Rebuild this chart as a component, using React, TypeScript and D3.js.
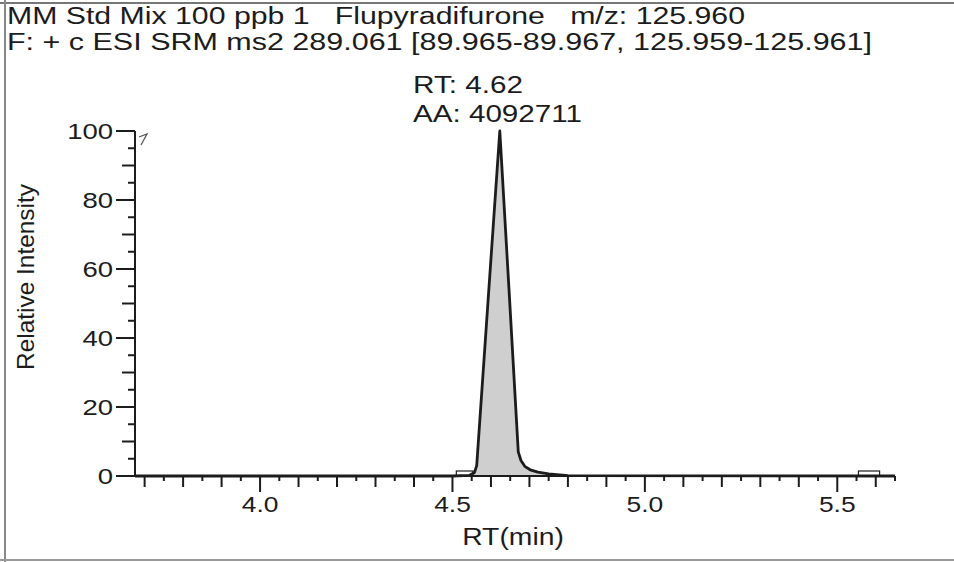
import React from 'react';
import * as d3 from 'd3';

// chromatogram trace (RT in min, relative intensity %)
const retentionTimes = [3.675, 4.5, 4.545, 4.557, 4.563, 4.592, 4.623, 4.648, 4.671, 4.678, 4.688, 4.702, 4.722, 4.75, 4.8, 5.65];
const intensities = [0, 0, 0.2, 1, 3, 50, 100, 52, 7, 4.5, 2.8, 1.8, 1.1, 0.6, 0.1, 0];

// baseline boundary markers
const markerStart = [4.51, 5.555];
const markerEnd = [4.553, 5.61];

const xTickLabels = [4.0, 4.5, 5.0, 5.5];
const yTickLabels = [0, 20, 40, 60, 80, 100];

const titleLine1 = 'MM Std Mix 100 ppb 1   Flupyradifurone   m/z: 125.960';
const titleLine2 = 'F: + c ESI SRM ms2 289.061 [89.965-89.967, 125.959-125.961]';
const peakRT = 'RT: 4.62';
const peakArea = 'AA: 4092711';

const W = 954;
const H = 562;
const ink = '#1c1c1c';
const font = '"Liberation Sans", Arial, sans-serif';

const App = () => {
  const x = d3.scaleLinear().domain([3.675, 5.65]).range([135, 895]);
  const y = d3.scaleLinear().domain([0, 100]).range([476, 131]);

  const pts = retentionTimes.map((t, i) => [t, intensities[i]] as [number, number]);

  const line = d3.line<[number, number]>()
    .x(d => x(d[0]))
    .y(d => y(d[1]));

  const area = d3.area<[number, number]>()
    .x(d => x(d[0]))
    .y0(y(0))
    .y1(d => y(d[1]));

  // tick positions every 0.05 min / every 5 %
  const xTicks = d3.range(74, 114).map(i => ({ v: i * 0.05, len: i % 10 === 0 ? 16 : i % 2 === 0 ? 11 : 5 }));
  const yTicks = d3.range(0, 21).map(i => ({ v: i * 5, len: i % 4 === 0 ? 19 : i % 2 === 0 ? 13 : 7 }));

  return (
    <svg width={W} height={H} style={{ position: 'absolute', left: 0, top: 0, background: '#fff' }} fontFamily={font}>
      {/* frame */}
      <line x1={0} x2={W} y1={3} y2={3} stroke="#777" strokeWidth={2} />
      <line x1={5} x2={5} y1={0} y2={H} stroke="#888" strokeWidth={2} />
      <line x1={0} x2={W} y1={560} y2={560} stroke="#999" strokeWidth={2} />

      {/* header */}
      <text x={7} y={24} fontSize={23} fill={ink} xmlSpace="preserve" style={{ whiteSpace: 'pre' }} textLength={738} lengthAdjust="spacingAndGlyphs">{titleLine1}</text>
      <text x={7} y={50} fontSize={23} fill={ink} textLength={865} lengthAdjust="spacingAndGlyphs">{titleLine2}</text>

      {/* peak */}
      <path d={area(pts) || ''} fill="#cfcfcf" />
      <path d={line(pts) || ''} fill="none" stroke={ink} strokeWidth={2.8} strokeLinejoin="round" />
      {markerStart.map((s, i) => (
        <rect key={i} x={x(s)} y={y(0) - 5} width={x(markerEnd[i]) - x(s)} height={5} fill="none" stroke={ink} strokeWidth={1.2} />
      ))}
      <text x={413} y={93} fontSize={23} fill={ink} textLength={110} lengthAdjust="spacingAndGlyphs">{peakRT}</text>
      <text x={413} y={122} fontSize={23} fill={ink} textLength={169} lengthAdjust="spacingAndGlyphs">{peakArea}</text>

      {/* y axis */}
      <line x1={x.range()[0]} x2={x.range()[0]} y1={y(0)} y2={y(100)} stroke={ink} strokeWidth={2} />
      {yTicks.map(t => (
        <line key={t.v} x1={135 - t.len} x2={135} y1={y(t.v)} y2={y(t.v)} stroke={ink} strokeWidth={2} />
      ))}
      {yTickLabels.map(v => (
        <text key={v} transform={`translate(113,${y(v) + 8}) scale(1.25,1)`} fontSize={22} textAnchor="end" fill={ink}>{v}</text>
      ))}
      <path d="M139,137 L147,134 L141,145" fill="none" stroke="#555" strokeWidth={1.3} />
      <text transform="translate(34,277) rotate(-90)" fontSize={24} textAnchor="middle" fill={ink} textLength={186} lengthAdjust="spacingAndGlyphs">Relative Intensity</text>

      {/* x axis */}
      <line x1={x.range()[0]} x2={x.range()[1]} y1={y(0)} y2={y(0)} stroke={ink} strokeWidth={2} />
      {xTicks.map(t => (
        <line key={t.v} x1={x(t.v)} x2={x(t.v)} y1={y(0)} y2={y(0) + t.len} stroke={ink} strokeWidth={2} />
      ))}
      {xTickLabels.map(v => (
        <text key={v} transform={`translate(${x(v)},512) scale(1.2,1)`} fontSize={22} textAnchor="middle" fill={ink}>{v.toFixed(1)}</text>
      ))}
      <text transform="translate(513,545) scale(1.18,1)" fontSize={24} textAnchor="middle" fill={ink}>RT(min)</text>
    </svg>
  );
};

export default App;
